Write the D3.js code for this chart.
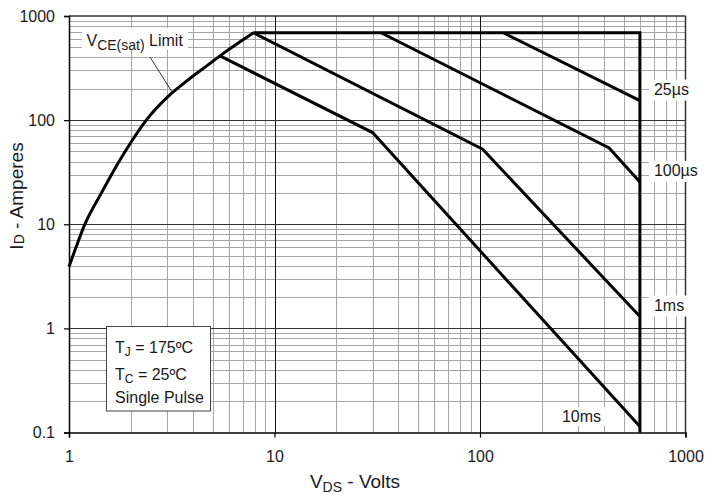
<!DOCTYPE html>
<html><head><meta charset="utf-8">
<script src="https://cdn.jsdelivr.net/npm/d3@7"></script>
<style>
html,body{margin:0;padding:0;background:#fff;}
svg text{font-family:"Liberation Sans",Arial,sans-serif;fill:#1a1a1a;}
</style></head>
<body>
<svg id="chart" width="707" height="495"></svg>
<script>
// ---- data (V_DS in volts, I_D in amperes) ----
const xTicks = [1, 10, 100, 1000];
const yTicks = [0.1, 1, 10, 100, 1000];
const xTickLabels = ["1", "10", "100", "1000"];
const yTickLabels = ["0.1", "1", "10", "100", "1000"];
const vceSat = [[1,3.9],[1.085,6.1],[1.192,9.9],[1.436,19.9],[1.732,38.6],[2.01,62],[2.378,100],[3.03,168],[3.794,243],[4.75,339],[5.43,414],[7.9,690]];
const limitLine = [[7.9,690],[600,690],[600,0.1]];
const us25 = [[130,690],[600,154]];
const us100 = [[33,690],[425,54],[600,25.5]];
const ms1 = [[7.9,690],[103,52.5],[600,1.3]];
const ms10 = [[5.43,414],[30,76],[600,0.114]];
const curveLabels = [
  {text:"25µs", v:600, i:154},
  {text:"100µs", v:600, i:25.5},
  {text:"1ms", v:600, i:1.3}
];

const svg = d3.select("#chart");
const L = 69, R = 685.5, T = 16, B = 432.5;
const x = d3.scaleLog().domain([1, 1000]).range([L, R]);
const y = d3.scaleLog().domain([0.1, 1000]).range([B, T]);

// minor grid
const gx = x.ticks(), gy = y.ticks();
const grid = svg.append("g");
grid.selectAll("line.vx").data(gx.filter(d => !xTicks.includes(d))).join("line")
  .attr("x1", d => Math.round(x(d)) + 0.5).attr("x2", d => Math.round(x(d)) + 0.5)
  .attr("y1", T).attr("y2", B).attr("stroke", "#a6a6a6").attr("stroke-width", 1);
grid.selectAll("line.hy").data(gy.filter(d => !yTicks.includes(d))).join("line")
  .attr("y1", d => Math.round(y(d)) + 0.5).attr("y2", d => Math.round(y(d)) + 0.5)
  .attr("x1", L).attr("x2", R).attr("stroke", "#a6a6a6").attr("stroke-width", 1);
// major grid
grid.selectAll("line.mx").data(xTicks.slice(1, -1)).join("line")
  .attr("x1", d => Math.round(x(d)) + 0.5).attr("x2", d => Math.round(x(d)) + 0.5)
  .attr("y1", T).attr("y2", B).attr("stroke", "#111").attr("stroke-width", 1);
grid.selectAll("line.my").data(yTicks.slice(1, -1)).join("line")
  .attr("y1", d => Math.round(y(d)) + 0.5).attr("y2", d => Math.round(y(d)) + 0.5)
  .attr("x1", L).attr("x2", R).attr("stroke", "#333").attr("stroke-width", 1);

// frame top/right
svg.append("line").attr("x1", L).attr("x2", R).attr("y1", T).attr("y2", T).attr("stroke", "#333").attr("stroke-width", 1.5);
svg.append("line").attr("x1", R).attr("x2", R).attr("y1", T).attr("y2", B).attr("stroke", "#333").attr("stroke-width", 1.5);

// curves
const line = d3.line().x(d => x(d[0])).y(d => y(d[1]));
const smooth = d3.line().x(d => x(d[0])).y(d => y(d[1])).curve(d3.curveMonotoneX);
svg.append("path").attr("d", smooth(vceSat)).attr("fill", "none")
  .attr("stroke", "#000").attr("stroke-width", 3);
[limitLine, us25, us100, ms1, ms10].forEach(s => {
  svg.append("path").attr("d", line(s)).attr("fill", "none")
    .attr("stroke", "#000").attr("stroke-width", 3).attr("stroke-linejoin", "miter");
});

// curve labels with white boxes
curveLabels.forEach(c => {
  const yy = y(c.i);
  const g = svg.append("g");
  const t = g.append("text").attr("x", x(c.v) + 14).attr("y", yy - 6)
    .attr("font-size", 16).text(c.text);
  const bb = t.node().getBBox();
  g.insert("rect", "text").attr("x", bb.x - 5).attr("y", bb.y - 1)
    .attr("width", bb.width + 8).attr("height", bb.height + 4).attr("fill", "#fff");
});
// 10ms label
{
  const g = svg.append("g");
  const t = g.append("text").attr("x", x(600) - 78).attr("y", 422).attr("font-size", 16).text("10ms");
  const bb = t.node().getBBox();
  g.insert("rect", "text").attr("x", bb.x - 4).attr("y", bb.y - 1)
    .attr("width", bb.width + 8).attr("height", bb.height + 2).attr("fill", "#fff");
}

// VCE(sat) Limit label
{
  const g = svg.append("g");
  g.append("rect").attr("x", 82).attr("y", 28).attr("width", 106).attr("height", 22).attr("fill", "#fff");
  const t = g.append("text").attr("x", 86.5).attr("y", 46).attr("font-size", 16);
  t.append("tspan").text("V");
  t.append("tspan").attr("font-size", 14).attr("dy", 3.5).text("CE(sat)");
  t.append("tspan").attr("dy", -3.5).text(" Limit");
  g.append("line").attr("x1", 150).attr("y1", 57).attr("x2", 172).attr("y2", 92)
    .attr("stroke", "#000").attr("stroke-width", 0.8);
}

// conditions box
{
  const g = svg.append("g");
  g.append("rect").attr("x", 106.5).attr("y", 326.5).attr("width", 104).attr("height", 84.5)
    .attr("fill", "#fff").attr("stroke", "#444").attr("stroke-width", 1);
  const t1 = g.append("text").attr("x", 115).attr("y", 352.5).attr("font-size", 16);
  t1.append("tspan").text("T");
  t1.append("tspan").attr("font-size", 12).attr("dy", 3).text("J");
  t1.append("tspan").attr("dy", -3).text(" = 175ºC");
  const t2 = g.append("text").attr("x", 115).attr("y", 379.5).attr("font-size", 16);
  t2.append("tspan").text("T");
  t2.append("tspan").attr("font-size", 12).attr("dy", 3).text("C");
  t2.append("tspan").attr("dy", -3).text(" = 25ºC");
  g.append("text").attr("x", 115).attr("y", 403).attr("font-size", 16).text("Single Pulse");
}

// axes
const xAxis = d3.axisBottom(x).tickValues(xTicks).tickSize(5).tickPadding(13)
  .tickFormat((d, i) => xTickLabels[i]);
const yAxis = d3.axisLeft(y).tickValues(yTicks).tickSize(5).tickPadding(9)
  .tickFormat((d, i) => yTickLabels[i]);
const ga = svg.append("g").attr("transform", `translate(0,${B})`).call(xAxis);
const gb = svg.append("g").attr("transform", `translate(${L},0)`).call(yAxis);
[ga, gb].forEach(g => {
  g.select(".domain").attr("stroke", "#000").attr("stroke-width", 1.5);
  g.selectAll(".tick line").attr("stroke", "#000").attr("stroke-width", 1.2);
  g.selectAll(".tick text").attr("font-size", 16).attr("fill", "#1a1a1a")
    .attr("font-family", '"Liberation Sans",Arial,sans-serif');
});

// axis titles
{
  const t = svg.append("text").attr("x", 355).attr("y", 488).attr("text-anchor", "middle").attr("font-size", 19);
  t.append("tspan").text("V");
  t.append("tspan").attr("font-size", 14).attr("dy", 4).text("DS");
  t.append("tspan").attr("dy", -4).text(" - Volts");
  const u = svg.append("text").attr("transform", "translate(23,196) rotate(-90)")
    .attr("text-anchor", "middle").attr("font-size", 19);
  u.append("tspan").text("I");
  u.append("tspan").attr("font-size", 14).attr("dy", 1).text("D");
  u.append("tspan").attr("dy", -1).text(" - Amperes");
}
</script>
</body></html>
